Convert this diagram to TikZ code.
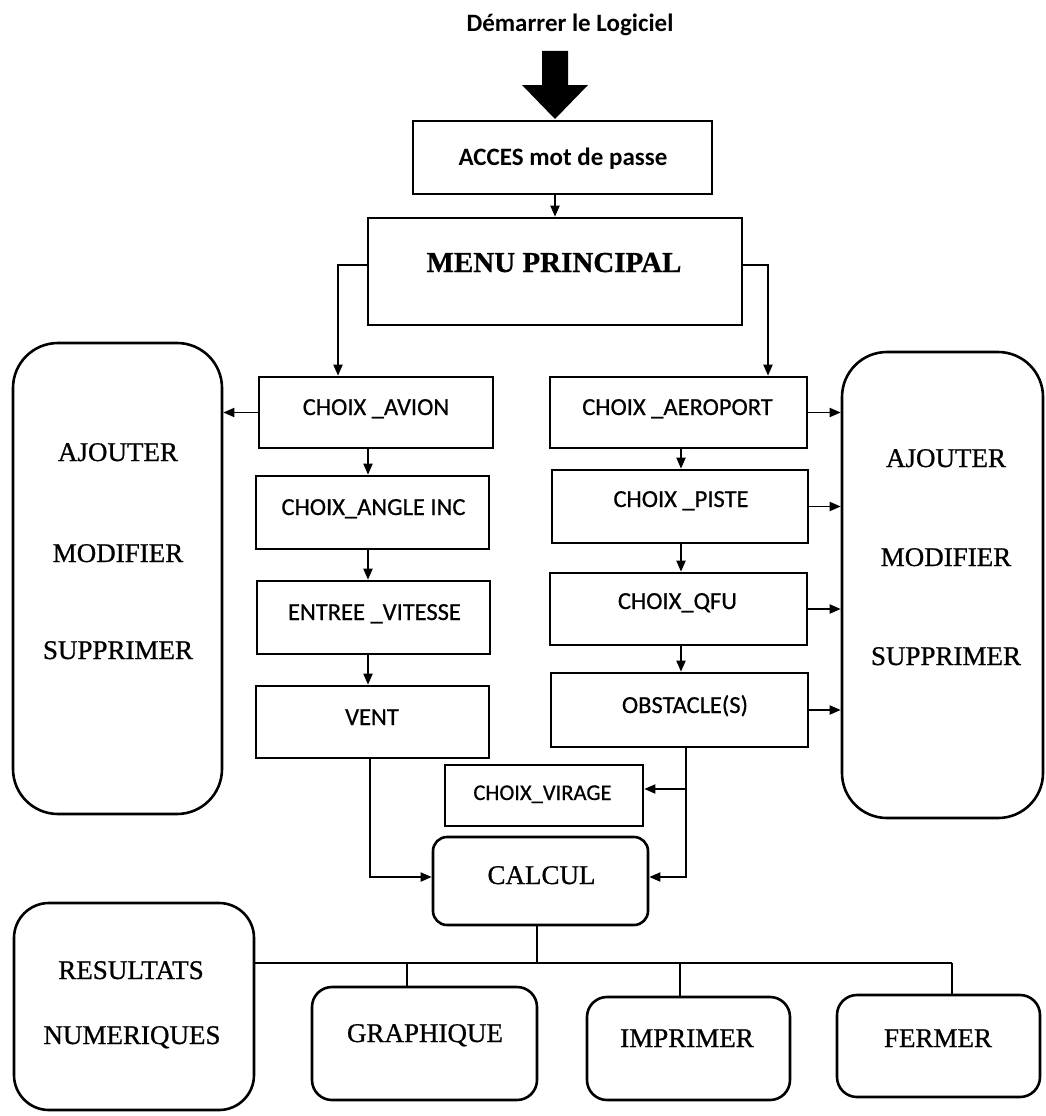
\documentclass[tikz,border=0pt]{standalone}
\usepackage{fontspec}
\setmainfont[FakeBold=0.8]{Liberation Serif}
\newfontfamily\carlito[FakeBold=0.6]{Carlito}
\newfontfamily\carlitobold{Carlito Bold}
\usetikzlibrary{arrows.meta,fit}

\begin{document}
\begin{tikzpicture}[x=1pt,y=-1pt,
  box/.style={draw, line width=2.6pt, inner sep=0pt},
  rbox/.style={box, rounded corners=#1},
  con/.style={line width=1.8pt, -{Triangle[length=11pt,width=9pt]}},
  tree/.style={line width=1.4pt},
  lab/.style={anchor=base, inner sep=0pt, font=\carlito\fontsize{24.5}{29}\selectfont},
  smalllab/.style={anchor=base, inner sep=0pt, font=\carlito\fontsize{22.5}{27}\selectfont},
  headlab/.style={anchor=base, inner sep=0pt, font=\carlitobold\fontsize{25}{30}\selectfont},
  ser/.style={anchor=base, inner sep=0pt, font=\fontsize{27}{32}\selectfont},
  serbold/.style={anchor=base, inner sep=0pt, font=\bfseries\fontsize{29}{34}\selectfont},
]
\useasboundingbox (0,0) rectangle (1045,1116);

% start label and the heavy entry arrow
\node[headlab] (start) at (570,32) {Démarrer le Logiciel};
\coordinate (tip) at (555,119);
\fill (tip) -- ++(-33,-34) -- ++(20,0) -- ++(0,-34) -- ++(26,0)
      -- ++(0,34) -- ++(20,0) -- cycle;

% password and main menu
\node[box, fit={(413,121) (712,194)}] (acces) {};
\node[headlab] (accest) at (563,165) {ACCES mot de passe};
\node[box, fit={(368,218) (742,325)}] (menu) {};
\node[serbold] (menut) at (554,272) {MENU PRINCIPAL};

% side panels
\node[rbox=45pt, fit={(13,343) (222,814)}] (leftbig) {};
\node[ser] (la) at (118,461) {AJOUTER};
\node[ser] (lm) at (118,562) {MODIFIER};
\node[ser] (ls) at (118,659) {SUPPRIMER};
\node[rbox=45pt, fit={(842,352) (1043,818)}] (rightbig) {};
\node[ser] (ra) at (946,467) {AJOUTER};
\node[ser] (rm) at (946,566) {MODIFIER};
\node[ser] (rs) at (946,665) {SUPPRIMER};

% aircraft column
\node[box, fit={(259,377) (493,448)}] (avion) {};
\node[lab] (aviont) at (376,415) {CHOIX \_AVION};
\node[box, fit={(256,476) (489,549)}] (angle) {};
\node[lab] (anglet) at (373.5,515) {CHOIX\_ANGLE INC};
\node[box, fit={(257,581) (490,654)}] (vitesse) {};
\node[lab] (vitesset) at (374.5,620) {ENTREE \_VITESSE};
\node[box, fit={(256,686) (489,758)}] (vent) {};
\node[lab] (ventt) at (372,725) {VENT};

% airport column
\node[box, fit={(550,377) (807,448)}] (aeroport) {};
\node[lab] (aeroportt) at (677.5,415) {CHOIX \_AEROPORT};
\node[box, fit={(552,470) (808,543)}] (piste) {};
\node[lab] (pistet) at (681,507) {CHOIX \_PISTE};
\node[box, fit={(550,573) (807,645)}] (qfu) {};
\node[lab] (qfut) at (677.5,609) {CHOIX\_QFU};
\node[box, fit={(551,673) (808,747)}] (obstacle) {};
\node[lab] (obstaclet) at (685,713) {OBSTACLE(S)};

% turn choice and computation
\node[box, fit={(445,765) (643,826)}] (virage) {};
\node[smalllab] (viraget) at (542.5,800) {CHOIX\_VIRAGE};
\node[rbox=14pt, fit={(433,837) (648,925)}] (calcul) {};
\node[ser] (calcult) at (541.5,884) {CALCUL};

% outputs
\node[rbox=35pt, fit={(14,903) (254,1110)}] (resultats) {};
\node[ser] (rest) at (131,979) {RESULTATS};
\node[ser] (numt) at (132,1044) {NUMERIQUES};
\node[rbox=20pt, fit={(312,987) (537,1100)}] (graphique) {};
\node[ser] (grapht) at (425,1042) {GRAPHIQUE};
\node[rbox=20pt, fit={(587,997) (790,1100)}] (imprimer) {};
\node[ser] (imprt) at (687,1047) {IMPRIMER};
\node[rbox=20pt, fit={(837,995) (1040,1097)}] (fermer) {};
\node[ser] (fermt) at (938,1047) {FERMER};

% guide coordinates for vertical runs
\coordinate (lc) at (368,0);
\coordinate (rc) at (681,0);
\coordinate (vx) at (370,0);
\coordinate (ox) at (686,0);
\coordinate (dc) at (537,963);
\coordinate (dg) at (407,963);
\coordinate (di) at (680,963);
\coordinate (df) at (952,963);

% connectors
\draw[con] (acces.south -| menu.north) -- (menu.north);
\draw[con] ([yshift=6.5pt]menu.west) -| ([xshift=-38pt]avion.north);
\draw[con] ([yshift=6.5pt]menu.east) -| ([xshift=89.5pt]aeroport.north);
\draw[con] (avion.west) -- (avion.west -| leftbig.east);
\draw[con] (avion.south -| lc) -- (angle.north -| lc);
\draw[con] (angle.south -| lc) -- (vitesse.north -| lc);
\draw[con] (vitesse.south -| lc) -- (vent.north -| lc);
\draw[con] (aeroport.south -| rc) -- (piste.north -| rc);
\draw[con] (piste.south -| rc) -- (qfu.north -| rc);
\draw[con] (qfu.south -| rc) -- (obstacle.north -| rc);
\draw[con] (aeroport.east) -- (aeroport.east -| rightbig.west);
\draw[con] (piste.east) -- (piste.east -| rightbig.west);
\draw[con] (qfu.east) -- (qfu.east -| rightbig.west);
\draw[con] (obstacle.east) -- (obstacle.east -| rightbig.west);
\draw[con] (vent.south -| vx) |- ([yshift=4pt]calcul.west);
\draw[con] (obstacle.south -| ox) |- ([yshift=4pt]calcul.east);
\draw[con] ([yshift=6.5pt]virage.east -| ox) -- ([yshift=6.5pt]virage.east);

% output tree
\draw[tree] (calcul.south -| dc) -- (dc);
\draw[tree] (resultats.east |- dc) -- (df);
\draw[tree] (dg) -- (dg |- graphique.north);
\draw[tree] (di) -- (di |- imprimer.north);
\draw[tree] (df) -- (df |- fermer.north);
\end{tikzpicture}
\end{document}
